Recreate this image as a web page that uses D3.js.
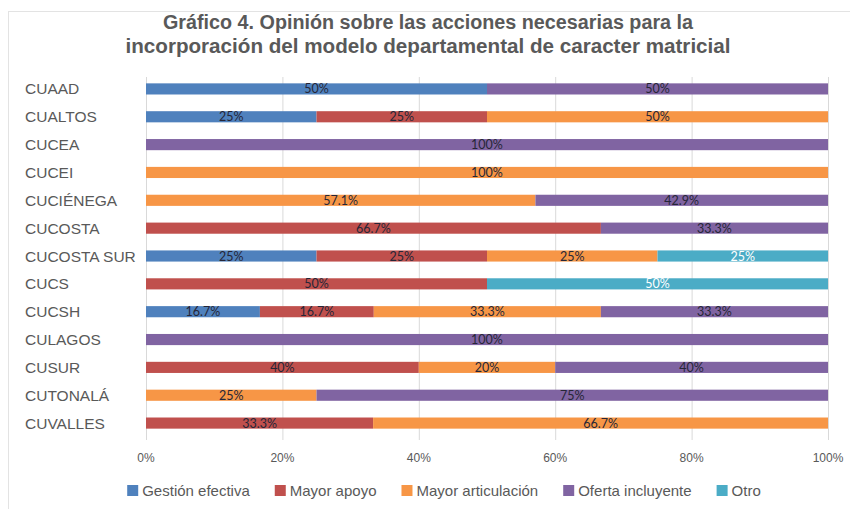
<!DOCTYPE html>
<html>
<head>
<meta charset="utf-8">
<script src="https://cdn.jsdelivr.net/npm/d3@7"></script>
<style>
  body { margin: 0; background: #fff; }
  svg { display: block; }
</style>
</head>
<body>
<div id="chart"></div>
<script>
// Data
const campuses = ["CUAAD", "CUALTOS", "CUCEA", "CUCEI", "CUCIÉNEGA", "CUCOSTA", "CUCOSTA SUR",
  "CUCS", "CUCSH", "CULAGOS", "CUSUR", "CUTONALÁ", "CUVALLES"];
const seriesNames = ["Gestión efectiva", "Mayor apoyo", "Mayor articulación", "Oferta incluyente", "Otro"];
const gestion     = [50, 25, 0, 0, 0, 0, 25, 0, 16.7, 0, 0, 0, 0];
const apoyo       = [0, 25, 0, 0, 0, 66.7, 25, 50, 16.7, 0, 40, 0, 33.3];
const articulacion = [0, 50, 0, 100, 57.1, 0, 25, 0, 33.3, 0, 20, 25, 66.7];
const oferta      = [50, 0, 100, 0, 42.9, 33.3, 0, 0, 33.3, 100, 40, 75, 0];
const otro        = [0, 0, 0, 0, 0, 0, 25, 50, 0, 0, 0, 0, 0];
const xTicks = [0, 20, 40, 60, 80, 100];
const titleLines = ["Gráfico 4. Opinión sobre las acciones necesarias para la",
  "incorporación del modelo departamental de caracter matricial"];

const colors = ["#4f81bd", "#c0504d", "#f79646", "#8064a2", "#4bacc6"];
const seriesValues = [gestion, apoyo, articulacion, oferta, otro];

const width = 850, height = 509;
const margin = { top: 75, right: 22, bottom: 72, left: 146 };

// build rows for the stack layout
const rows = campuses.map((c, i) => {
  const r = { campus: c };
  seriesNames.forEach((s, k) => r[s] = seriesValues[k][i]);
  return r;
});
const stacked = d3.stack().keys(seriesNames)(rows);

const svg = d3.select("#chart").append("svg")
    .attr("width", width)
    .attr("height", height);

// chart frame
svg.append("rect")
    .attr("x", 8.5).attr("y", 11.5)
    .attr("width", width).attr("height", height)
    .attr("fill", "none")
    .attr("stroke", "#e3e3e3");

const x = d3.scaleLinear().domain([0, 100]).range([margin.left, width - margin.right]);
const y = d3.scaleBand().domain(campuses)
    .range([margin.top, height - margin.bottom])
    .paddingInner(0.6).paddingOuter(0.3);

// title
svg.append("g").selectAll("text")
    .data(titleLines)
    .join("text")
    .attr("x", 428)
    .attr("y", (d, i) => 29 + i * 24)
    .attr("text-anchor", "middle")
    .attr("textLength", (d, i) => i === 0 ? 530 : 605)
    .attr("lengthAdjust", "spacingAndGlyphs")
    .attr("font-family", "Liberation Sans, Arial, sans-serif")
    .attr("font-weight", "bold")
    .attr("font-size", 20)
    .attr("fill", "#595959")
    .text(d => d);

// gridlines
svg.append("g").selectAll("line")
    .data(xTicks)
    .join("line")
    .attr("x1", d => x(d) + 0.5).attr("x2", d => x(d) + 0.5)
    .attr("y1", margin.top + 2).attr("y2", height - margin.bottom + 3)
    .attr("stroke", "#d9d9d9");

// x axis labels
svg.append("g").selectAll("text")
    .data(xTicks)
    .join("text")
    .attr("x", d => x(d))
    .attr("y", 462)
    .attr("text-anchor", "middle")
    .attr("font-family", "Liberation Sans, Arial, sans-serif")
    .attr("font-size", 12)
    .attr("fill", "#595959")
    .text(d => d + "%");

// category labels
svg.append("g").selectAll("text")
    .data(campuses)
    .join("text")
    .attr("x", 25)
    .attr("y", d => y(d) + y.bandwidth() / 2 + 5.5)
    .attr("font-family", "Liberation Sans, Arial, sans-serif")
    .attr("font-size", 15.5)
    .attr("fill", "#595959")
    .text(d => d);

// bars
const layers = svg.append("g").selectAll("g")
    .data(stacked)
    .join("g")
    .attr("fill", (d, i) => colors[i]);

layers.selectAll("rect")
    .data(d => d.filter(p => p[1] - p[0] > 0))
    .join("rect")
    .attr("x", d => x(d[0]))
    .attr("y", d => y(d.data.campus))
    .attr("width", d => x(d[1]) - x(d[0]))
    .attr("height", y.bandwidth());

// data labels
layers.each(function(layer, i) {
  d3.select(this).selectAll("text")
    .data(layer.filter(p => p[1] - p[0] > 0))
    .join("text")
    .attr("x", d => (x(d[0]) + x(d[1])) / 2)
    .attr("y", d => y(d.data.campus) + y.bandwidth() / 2 + 4.5)
    .attr("text-anchor", "middle")
    .attr("font-family", "Lato, Carlito, sans-serif")
    .attr("font-size", 12.5)
    .attr("fill", i === 4 ? "#ffffff" : "#262637")
    .text(d => d3.format("~")(+(d[1] - d[0]).toFixed(1)) + "%");
});

// legend
const legend = svg.append("g").attr("transform", "translate(0,491)");
const items = legend.selectAll("g")
    .data(seriesNames)
    .join("g");
items.append("rect")
    .attr("y", -6).attr("width", 11).attr("height", 11)
    .attr("fill", (d, i) => colors[i]);
items.append("text")
    .attr("x", 15)
    .attr("y", 5)
    .attr("font-family", "Liberation Sans, Arial, sans-serif")
    .attr("font-size", 15)
    .attr("fill", "#595959")
    .text(d => d);
const gap = 25;
let cursor = 0;
const offsets = [];
items.each(function() {
  offsets.push(cursor);
  cursor += 15 + d3.select(this).select("text").node().getComputedTextLength() + gap;
});
const total = cursor - gap;
const start = 444 - total / 2;
items.attr("transform", (d, i) => `translate(${start + offsets[i]},0)`);
</script>
</body>
</html>
